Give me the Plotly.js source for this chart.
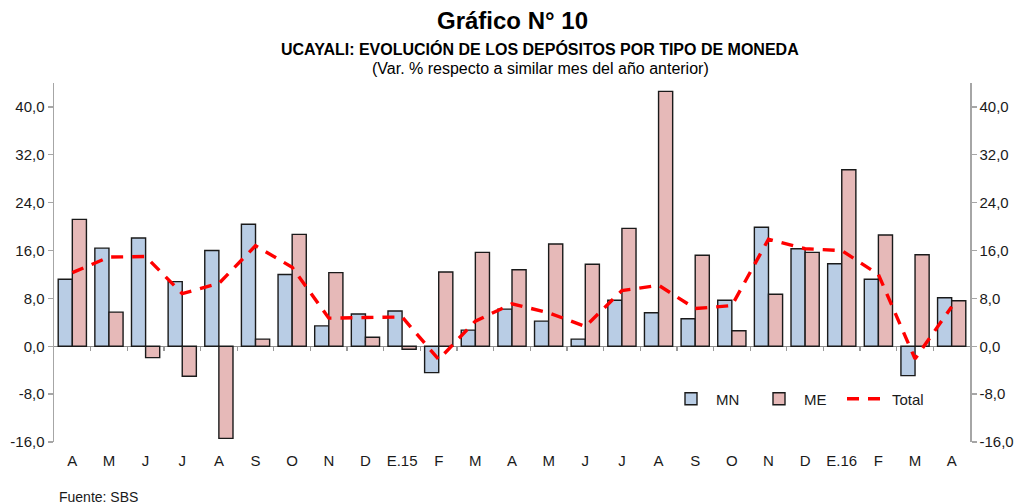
<!DOCTYPE html>
<html>
<head>
<meta charset="utf-8">
<script src="https://cdn.plot.ly/plotly-3.0.1.min.js"></script>
<style>html,body{margin:0;padding:0;background:#fff;}#chart{width:1015px;height:504px;}</style>
</head>
<body>
<div id="chart"></div>
<script>
const categories = ['A','M','J','J','A','S','O','N','D','E.15','F','M','A','M','J','J','A','S','O','N','D','E.16','F','M','A'];
const mnValues = [11.2,16.4,18.1,10.8,16.0,20.4,12.0,3.4,5.4,5.9,-4.4,2.7,6.2,4.2,1.2,7.7,5.6,4.6,7.7,19.9,16.3,13.8,11.2,-4.9,8.1];
const meValues = [21.2,5.7,-1.9,-5.0,-15.4,1.2,18.7,12.3,1.5,-0.5,12.4,15.7,12.8,17.1,13.7,19.7,42.6,15.2,2.6,8.7,15.7,29.5,18.6,15.3,7.6];
const totalValues = [12.3,14.9,15.0,8.8,10.5,16.8,13.2,4.7,4.8,4.9,-2.2,4.2,7.1,5.6,3.3,9.3,10.2,6.3,6.8,17.9,16.3,16.0,12.0,-2.1,6.6];
const yTickVals = [-16,-8,0,8,16,24,32,40];
const yTickText = yTickVals.map(v => v.toFixed(1).replace('.', ','));

const idx = categories.map((c,i)=>i);
const boundaries = categories.slice(1).map((c,i)=>i+0.5);
const FONT = 'Liberation Sans, Arial, sans-serif';
const TXT = '#1a1a1a';

const traces = [
  {type:'bar', name:'MN', x:idx, y:mnValues,
   marker:{color:'#B9CDE5', line:{color:'#1a1a1a', width:1.4}}},
  {type:'bar', name:'ME', x:idx, y:meValues,
   marker:{color:'#E6B9B8', line:{color:'#1a1a1a', width:1.4}}},
  {type:'scatter', mode:'lines', name:'Total', x:idx, y:totalValues,
   line:{color:'#FF0000', width:3.4, dash:'12px,9px'}},
  // invisible helper so the secondary axes (right scale, zero-line ticks) get drawn
  {type:'scatter', mode:'lines', x:idx, y:totalValues, xaxis:'x2', yaxis:'y2',
   line:{width:0, color:'rgba(0,0,0,0)'}, showlegend:false, hoverinfo:'skip'}
];

const layout = {
  width:1015, height:504,
  margin:{l:54, r:45, t:83, b:62},
  paper_bgcolor:'#fff', plot_bgcolor:'#fff',
  font:{family:FONT, size:15, color:TXT},
  barmode:'group', bargap:0.23, bargroupgap:0,
  showlegend:true,
  legend:{orientation:'h', x:(666-54)/916, y:(442-399)/359, xanchor:'left', yanchor:'middle',
          font:{family:FONT, size:15, color:TXT}, bgcolor:'rgba(0,0,0,0)',
          itemwidth:40, entrywidth:33, entrywidthmode:'pixels', traceorder:'normal'},
  xaxis:{range:[-0.5, categories.length-0.5], tickvals:idx, ticktext:categories,
         showline:false, showgrid:false, zeroline:false, ticks:'outside', ticklen:5, tickcolor:'rgba(0,0,0,0)',
         tickfont:{family:FONT, size:15, color:TXT}},
  xaxis2:{overlaying:'x', anchor:'free', position:16/60, range:[-0.5, categories.length-0.5],
          tickvals:boundaries, showticklabels:false, ticks:'outside', ticklen:4, tickcolor:'#999',
          tickwidth:1.3, showline:false, showgrid:false, zeroline:false},
  yaxis:{range:[-16,44], tickvals:yTickVals, ticktext:yTickText, showgrid:false,
         zeroline:true, zerolinecolor:'#8f8f8f', zerolinewidth:1.5,
         showline:true, linecolor:'#a6a6a6', linewidth:1.5, ticks:'outside', ticklen:5,
         tickcolor:'#a6a6a6', tickwidth:1.3, tickfont:{family:FONT, size:15, color:TXT}},
  yaxis2:{overlaying:'y', side:'right', anchor:'x', range:[-16,44], tickvals:yTickVals, ticktext:yTickText,
          showgrid:false, zeroline:false, showline:true, linecolor:'#a6a6a6', linewidth:1.5,
          ticks:'outside', ticklen:5, tickcolor:'#a6a6a6', tickwidth:1.3, automargin:false,
          tickfont:{family:FONT, size:15, color:TXT}},
  annotations:[
    {text:'<b>Gráfico N° 10</b>', xref:'paper', yref:'paper', x:(512-54)/916, y:(442-21)/359, xanchor:'center', yanchor:'middle',
     showarrow:false, font:{family:FONT, size:24, color:'#000'}},
    {text:'<b>UCAYALI: EVOLUCIÓN DE LOS DEPÓSITOS POR TIPO DE MONEDA</b>', xref:'paper', yref:'paper',
     x:(540-54)/916, y:(442-49)/359, xanchor:'center', yanchor:'middle', showarrow:false,
     font:{family:FONT, size:16, color:'#000'}},
    {text:'(Var. % respecto a similar mes del año anterior)', xref:'paper', yref:'paper',
     x:(540-54)/916, y:(442-69)/359, xanchor:'center', yanchor:'middle', showarrow:false,
     font:{family:FONT, size:16, color:'#000'}},
    {text:'Fuente: SBS', xref:'paper', yref:'paper', x:(57-54)/916, y:(442-487)/359,
     xanchor:'left', yanchor:'top', showarrow:false, font:{family:FONT, size:14, color:TXT}}
  ]
};

Plotly.newPlot('chart', traces, layout, {displayModeBar:false, staticPlot:true});
</script>
</body>
</html>
